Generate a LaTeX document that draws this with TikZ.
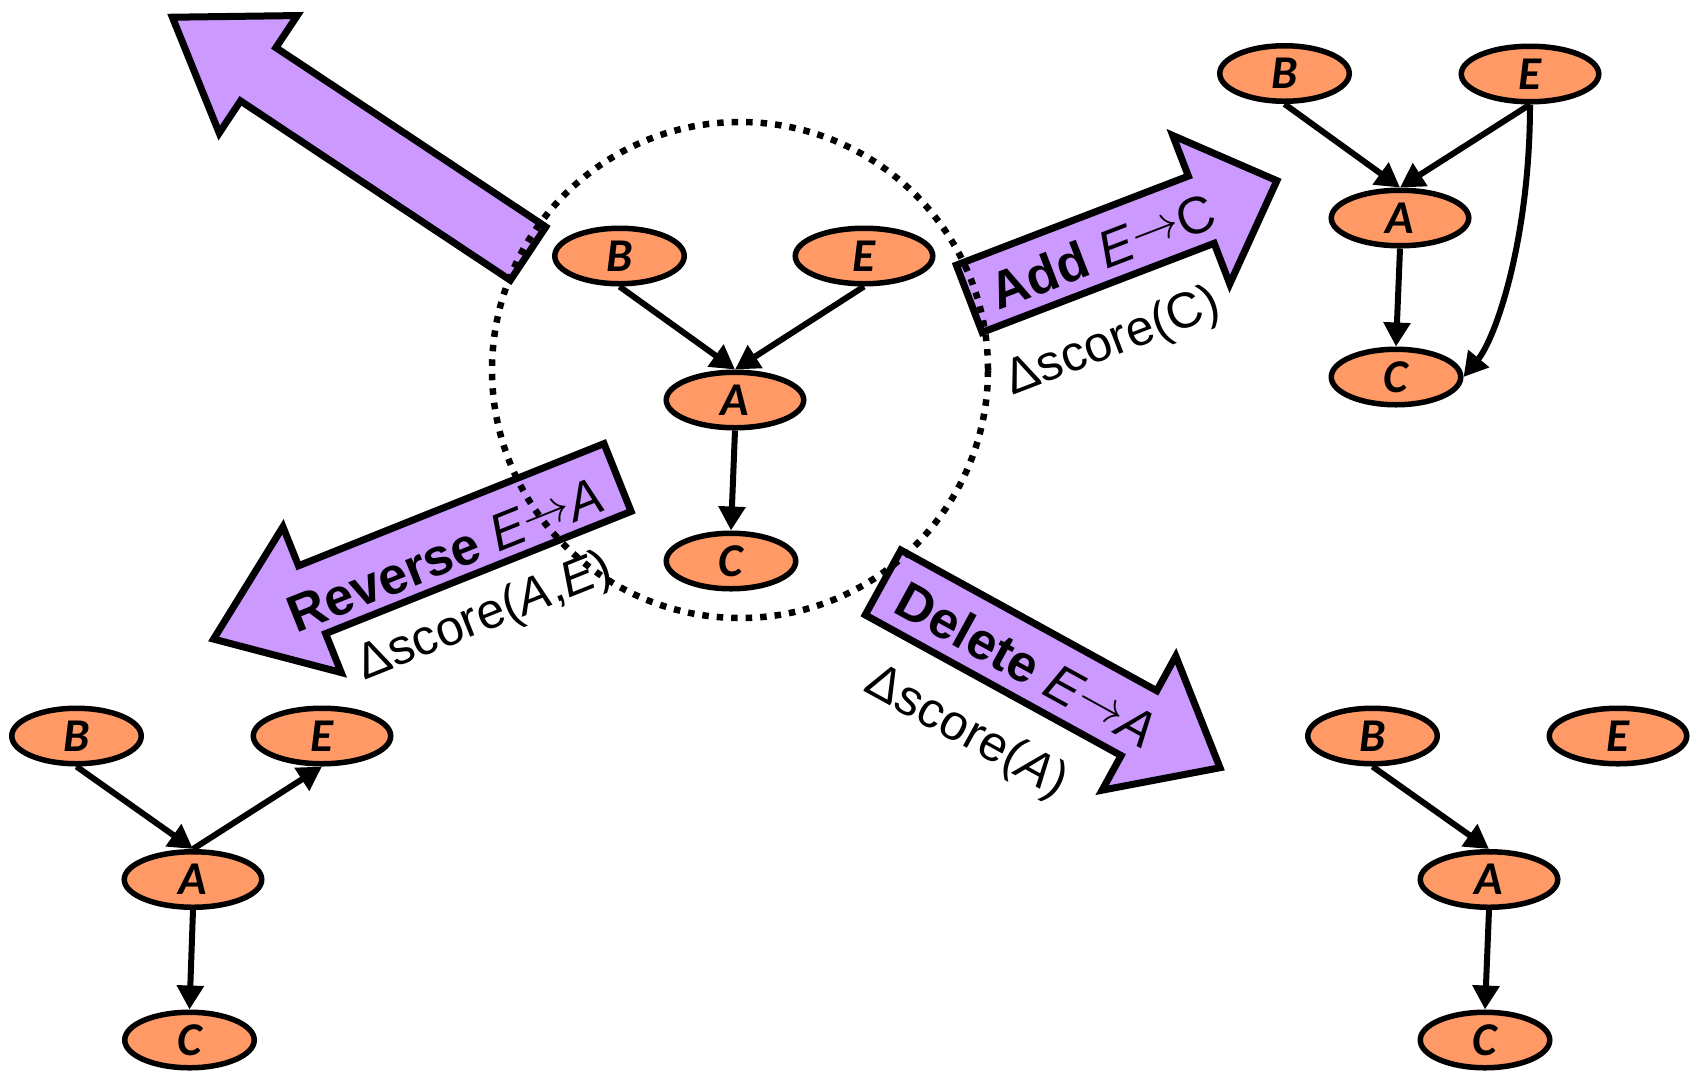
\documentclass[tikz,border=0pt]{standalone}
\usepackage{fontspec}
\setmainfont{Liberation Sans}
\newfontfamily\varfont{Carlito}
\usetikzlibrary{arrows.meta,shapes.geometric}
\definecolor{varorange}{HTML}{FF9966}
\definecolor{oppurple}{HTML}{CC99FF}
\newcommand{\edgeto}{\raisebox{6pt}{\scalebox{4.8}{\normalsize$\rightarrow$}}}
\tikzset{
  var/.style={ellipse, draw, fill=varorange, line width=5.5pt, inner sep=0pt,
    minimum width=129.5pt, minimum height=55.5pt,
    font=\varfont\bfseries\itshape\fontsize{47}{50}\selectfont},
  var wide/.style={var, minimum width=137.5pt},
  edge/.style={line width=6pt, -{Triangle[length=24pt,width=26pt]}},
  op arrow/.style={draw, fill=oppurple, line width=7pt},
  op text/.style={transform shape, inner sep=0pt, font=\fontsize{52}{56}\selectfont},
  score/.style={transform shape, inner sep=0pt, font=\fontsize{50}{54}\selectfont}
}
\begin{document}
\begin{tikzpicture}[x=1pt, y=-1pt]
  \useasboundingbox (0,0) rectangle (1699,1072);
  % operator arrows
  \begin{scope}[shift={(531,255.5)}, rotate=146.4]
    \draw[op arrow] (3.5,-32) -- (327.5,-32) -- (327.5,-70.5) -- (430.6,0)
      -- (327.5,70.5) -- (327.5,32) -- (3.5,32) -- cycle;
  \end{scope}
  \begin{scope}[shift={(966,300)}, rotate=21]
    \draw[op arrow] (3.5,-36) -- (252,-36) -- (252,-79.5) -- (333,0)
      -- (252,79.5) -- (252,36) -- (3.5,36) -- cycle;
    \node[op text] (add) at (145,3) {\textbf{Add} \textit{E}\edgeto C};
    \node[score] (addscore) at (122,93) {Δscore(C)};
  \end{scope}
  \begin{scope}[shift={(620.8,476.2)}, rotate=201.8]
    \draw[op arrow] (3.5,-36.5) -- (332.5,-36.5) -- (332.5,-78.5) -- (438.6,0)
      -- (332.5,78.5) -- (332.5,36.5) -- (3.5,36.5) -- cycle;
    \node[op text, rotate=180] (rev) at (192,-8) {\textbf{Reverse} \textit{E}\edgeto\textit{A}};
    \node[score, rotate=180] (revscore) at (178.6,-81.2) {Δscore(\textit{A},\textit{E})};
  \end{scope}
  \begin{scope}[shift={(880,580.8)}, rotate=-28.8]
    \draw[op arrow] (3.5,-37) -- (295.5,-37) -- (295.5,-76.5) -- (388,0)
      -- (295.5,76.5) -- (295.5,37) -- (3.5,37) -- cycle;
    \node[op text] (del) at (169,3) {\textbf{Delete} \textit{E}\edgeto\textit{A}};
    \node[score] (delscore) at (149,92) {Δscore(\textit{A})};
  \end{scope}
  % current network
  \draw
    (619.5,256) node[var] (B0){B}
    (864,256) node[var wide] (E0){E}
    (735,400) node[var wide] (A0){A}
    (731,561) node[var] (C0){C};
  % after add
  \draw
    (1284.5,73.5) node[var] (B1){B}
    (1530,74) node[var wide] (E1){E}
    (1400,218) node[var wide] (A1){A}
    (1396,377) node[var] (C1){C};
  % after reverse
  \draw
    (76.5,736) node[var] (B2){B}
    (322,736) node[var wide] (E2){E}
    (193,879.5) node[var wide] (A2){A}
    (189.5,1040) node[var] (C2){C};
  % after delete
  \draw
    (1372.5,736) node[var] (B3){B}
    (1618,736) node[var wide] (E3){E}
    (1489,879.5) node[var wide] (A3){A}
    (1485,1040) node[var] (C3){C};
  \begin{scope}[edge]
    \draw (B0.south) to (A0.north);
    \draw (E0.south) to (A0.north);
    \draw (A0.south) to (C0.north);
    \draw (B1.south) to (A1.north);
    \draw (E1.south) to (A1.north);
    \draw (A1.south) to (C1.north);
    \draw (E1.south) .. controls +(0,132) and +(33,-40) .. (C1.east);
    \draw (B2.south) to (A2.north);
    \draw (A2.north) to (E2.south);
    \draw (A2.south) to (C2.north);
    \draw (B3.south) to (A3.north);
    \draw (A3.south) to (C3.north);
  \end{scope}
  % neighbourhood
  \draw[line width=6.5pt, dash pattern=on 6.5pt off 8pt] (740,370) circle[radius=248pt];
\end{tikzpicture}
\end{document}
